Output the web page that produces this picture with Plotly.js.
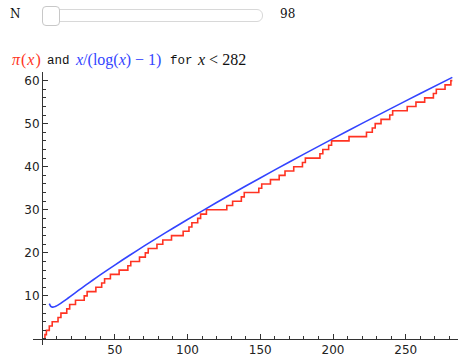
<!DOCTYPE html>
<html>
<head>
<meta charset="utf-8">
<script src="https://cdn.plot.ly/plotly-3.0.1.min.js"></script>
<style>
  html, body { margin:0; padding:0; background:#fff; width:458px; height:356px; overflow:hidden; }
  #wrap { position:relative; width:458px; height:356px; }
  #plot { position:absolute; left:0; top:0; width:458px; height:356px; }
  .lbl { position:absolute; font-family:"DejaVu Serif","Liberation Serif",serif; font-size:12px; color:#111; }
  #track { position:absolute; left:42px; top:9px; width:221px; height:13px; border:1px solid #d8d8d8; border-radius:6px; background:#fff; box-sizing:border-box; }
  #handle { position:absolute; left:42px; top:6px; width:18px; height:20px; border:1px solid #c8c8c8; border-radius:4px; background:#fff; box-sizing:border-box; }
  .t { position:absolute; top:50px; white-space:nowrap; line-height:20px; }
  .m { font-family:"Liberation Serif","DejaVu Serif",serif; font-size:16px; }
  .tt { font-family:"Liberation Mono","DejaVu Sans Mono",monospace; font-size:12.5px; color:#111; top:51px; }
</style>
</head>
<body>
<div id="wrap">
  <div id="plot"></div>
  <div class="lbl" style="left:10px;top:7px;">N</div>
  <div id="track"></div>
  <div id="handle"></div>
  <div class="lbl" style="left:280px;top:7px;">98</div>
  <span class="t m" style="left:12px;color:#ff3322;letter-spacing:1px;"><i>π</i>(<i>x</i>)</span>
  <span class="t tt" style="left:47px;">and</span>
  <span class="t m" style="left:76px;color:#3344ff;"><i>x</i>/(log(<i>x</i>) − 1)</span>
  <span class="t tt" style="left:170px;">for</span>
  <span class="t m" style="left:198px;color:#111;"><i>x</i> &lt; 282</span>
</div>
<script>
// prime numbers below 282 (jump points of pi(x))
const primes = [2,3,5,7,11,13,17,19,23,29,31,37,41,43,47,53,59,61,67,71,73,79,83,89,97,
  101,103,107,109,113,127,131,137,139,149,151,157,163,167,173,179,181,191,193,197,199,
  211,223,227,229,233,239,241,251,257,263,269,271,277,281];
const piX = [0].concat(primes).concat([282]);
const piY = [0].concat(primes.map((p, i) => i + 1)).concat([primes.length]);

// blue curve sample points
const curveX = [5,6,7,8,9,10,12,14,16,18,20,25,30,35,40,50,60,70,80,90,100,120,140,160,180,200,220,240,260,282];
const curveY = [8.21,7.58,7.40,7.41,7.52,7.68,8.08,8.54,9.03,9.52,10.02,11.27,12.49,13.70,14.88,17.17,19.39,21.55,23.65,25.72,27.74,31.68,35.52,39.26,42.93,46.53,50.07,53.56,57.01,60.75];

const xTicks = [50,100,150,200,250];
const yTicks = [10,20,30,40,50,60];

const xr = [-6.2, 285.9], yr = [-1.4, 62.0];

const traces = [
  {x: piX, y: piY, type:'scatter', mode:'lines', line:{color:'#ff3322', width:1.6, shape:'hv'}, hoverinfo:'skip'},
  {x: curveX, y: curveY, type:'scatter', mode:'lines', line:{color:'#3344ff', width:1.6, shape:'spline', smoothing:0.6}, hoverinfo:'skip'}
];

const axcommon = {
  showgrid:false, zeroline:false, showline:true, linecolor:'#333', linewidth:1,
  ticks:'inside', ticklen:5, tickwidth:1, tickcolor:'#333',
  tickfont:{family:'DejaVu Sans, sans-serif', size:12, color:'#222'},
  fixedrange:true
};

const layout = {
  width:458, height:356,
  margin:{l:33, r:0, t:72, b:11, pad:0},
  paper_bgcolor:'rgba(0,0,0,0)', plot_bgcolor:'rgba(0,0,0,0)',
  showlegend:false,
  xaxis: Object.assign({}, axcommon, {
    range: xr, tickmode:'array', tickvals: xTicks,
    anchor:'free', position: (0 - yr[0]) / (yr[1] - yr[0]),
    minor:{tickmode:'linear', tick0:0, dtick:10, ticklen:3, tickwidth:1, tickcolor:'#333', ticks:'inside'}
  }),
  yaxis: Object.assign({}, axcommon, {
    range: yr, tickmode:'array', tickvals: yTicks,
    anchor:'free', position: (0 - xr[0]) / (xr[1] - xr[0]),
    minor:{tickmode:'linear', tick0:0, dtick:2, ticklen:3, tickwidth:1, tickcolor:'#333', ticks:'inside'}
  })
};

Plotly.newPlot('plot', traces, layout, {staticPlot:true, displayModeBar:false});
</script>
</body>
</html>
